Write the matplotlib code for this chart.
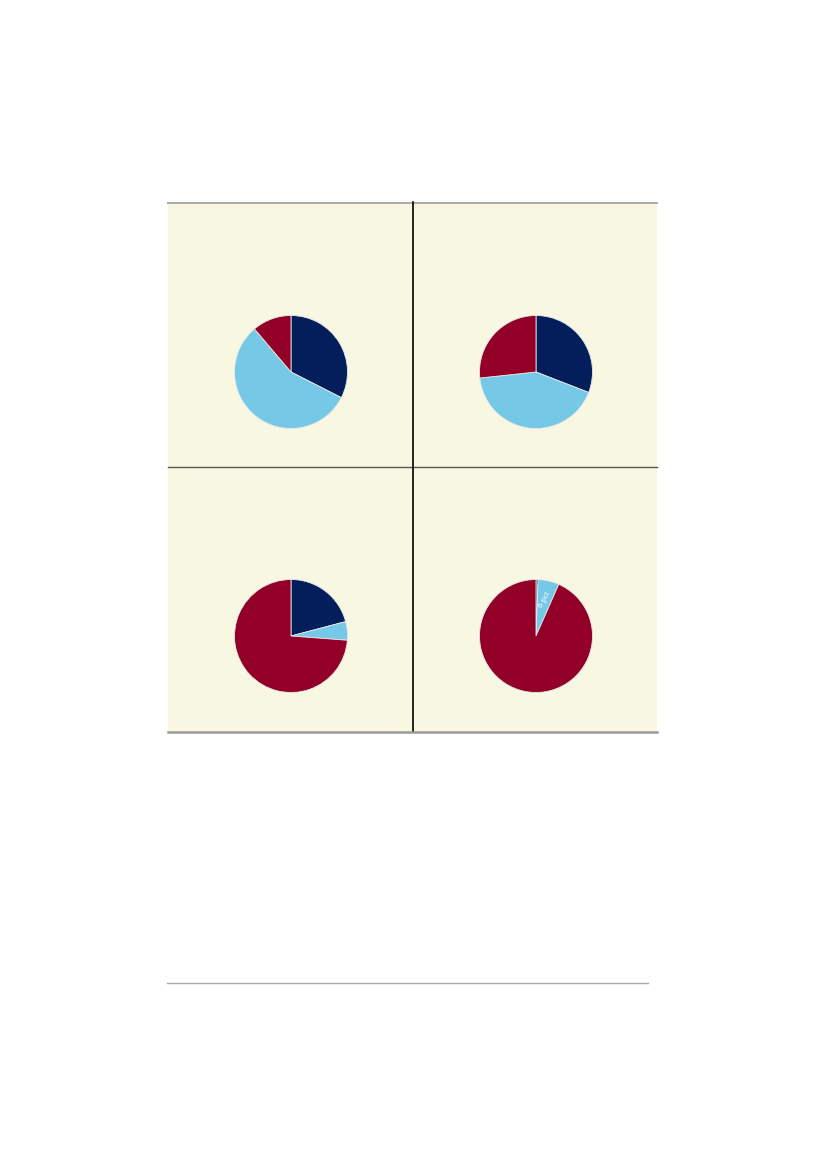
import matplotlib
matplotlib.use("Agg")
import matplotlib.pyplot as plt
from matplotlib.lines import Line2D
import numpy as np

# ---- data ----
categories = ["Navy", "Light blue", "Red"]
pie_top_left = [32.5, 56.3, 11.2]
pie_top_right = [30.9, 42.4, 26.7]
pie_bottom_left = [20.9, 5.3, 73.8]
pie_bottom_right = [0.6, 6.0, 93.4]
pie_bottom_right_labels = ["", "6 pct", ""]

colors = ["#041e5b", "#76c9e6", "#920028"]
bg = "#f8f7e2"

W, H = 827, 1169
fig = plt.figure(figsize=(W / 100, H / 100), dpi=100)
fig.patch.set_facecolor("white")

def fx(x):
    return x / W

def fy(y):
    return 1 - y / H

# panel background
panel = fig.add_axes([fx(168), fy(732), fx(657) - fx(168), fy(202) - fy(732)])
panel.set_facecolor(bg)
panel.set_xticks([]); panel.set_yticks([])
for s in panel.spines.values():
    s.set_visible(False)

# lines
fig.add_artist(Line2D([fx(168), fx(657)], [fy(203), fy(203)], color="#aaaaaa", lw=1.4))
fig.add_artist(Line2D([fx(168), fx(657)], [fy(467), fy(467)], color="#555555", lw=1.0))
fig.add_artist(Line2D([fx(413), fx(413)], [fy(202), fy(732)], color="#000000", lw=1.2))
fig.add_artist(Line2D([fx(168), fx(657)], [fy(732), fy(732)], color="#999999", lw=1.8))
fig.add_artist(Line2D([fx(167), fx(648)], [fy(983), fy(983)], color="#aaaaaa", lw=1.0))

R = 56.5

def draw_pie(cx, cy, values):
    ax = fig.add_axes([fx(cx - R), fy(cy + R), 2 * R / W, 2 * R / H])
    ax.set_facecolor("none")
    ax.pie(values, colors=colors, startangle=90, counterclock=False,
           radius=1.0, wedgeprops=dict(edgecolor="#e8e8e8", linewidth=0.6))
    ax.set_xlim(-1, 1); ax.set_ylim(-1, 1)
    ax.set_aspect("auto")
    ax.axis("off")
    return ax

draw_pie(291, 372, pie_top_left)
draw_pie(536, 372, pie_top_right)
draw_pie(291, 636, pie_bottom_left)
ax4 = draw_pie(536, 636, pie_bottom_right)

# label inside light-blue slice of last pie
tot = sum(pie_bottom_right)
start = 90 - 360 * pie_bottom_right[0] / tot
mid = start - 180 * pie_bottom_right[1] / tot
ang = np.deg2rad(mid)
ax4.text(0.66 * np.cos(ang), 0.66 * np.sin(ang), pie_bottom_right_labels[1],
         rotation=62, ha="center", va="center", color="white", fontsize=5.5,
         family="Liberation Sans")

fig.savefig("out.png", dpi=100, facecolor="white")
